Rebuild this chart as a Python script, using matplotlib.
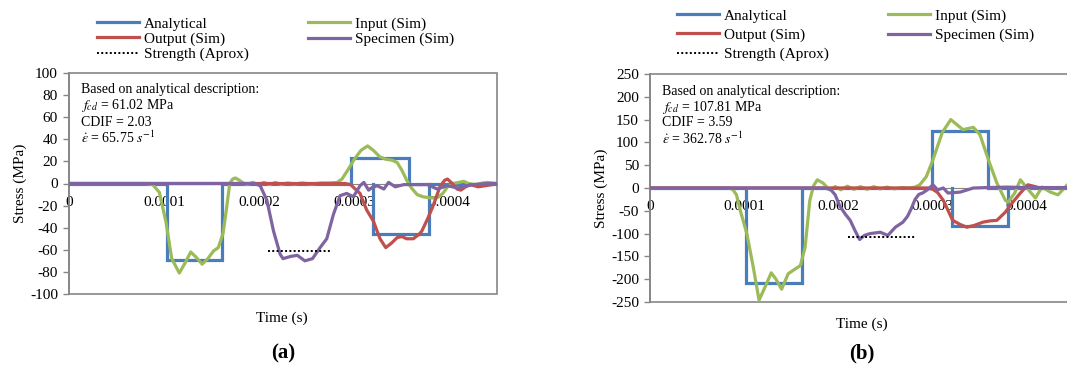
import matplotlib
matplotlib.use("Agg")
import matplotlib.pyplot as plt
from matplotlib.patches import Rectangle
import numpy as np

plt.rcParams['font.family'] = ['Liberation Serif', 'DejaVu Serif']
plt.rcParams['mathtext.fontset'] = 'stix'
plt.rcParams['axes.unicode_minus'] = False

E = 1e-4
# ---------------- Panel (a) ----------------
ana_a_t = [0, 1.03, 1.03, 1.61, 1.61, 2.97, 2.97, 3.57, 3.57, 4.5]
ana_a_v = [0, 0, -69, -69, 0, 0, 23, 23, 0, 0]
ana_a_t2 = [3.20, 3.20, 3.78, 3.78]
ana_a_v2 = [0, -46, -46, 0]

inp_a_t = [0, 0.80, 0.88, 0.95, 1.02, 1.08, 1.16, 1.22, 1.28, 1.34, 1.40, 1.46, 1.52, 1.57,
           1.62, 1.66, 1.69, 1.72, 1.75, 1.79, 1.84, 1.88, 1.93, 1.99, 2.05, 2.11, 2.17, 2.23,
           2.30, 2.37, 2.45, 2.55, 2.65, 2.75, 2.82, 2.87, 2.93, 3.00, 3.07, 3.14, 3.20, 3.27,
           3.33, 3.40, 3.45, 3.50, 3.55, 3.60, 3.66, 3.72, 3.80, 3.87, 3.93, 3.98, 4.04, 4.10,
           4.15, 4.20, 4.27, 4.35, 4.40, 4.50]
inp_a_v = [0, 0, -1, -8, -35, -68, -81, -72, -62, -67, -73, -68, -61, -58,
           -45, -20, 0, 4, 5, 3, 0, -1, 1, -1, 1, -1, 1, -1,
           0.5, -0.5, 0.5, -0.5, 0.5, 0.5, 1, 4, 12, 22, 30, 34, 30, 24,
           22, 21, 19, 12, 3, -4, -10, -12, -13, -13, -9, -3, 0, 1,
           2, 0, -1, 0.5, 1, 0]

out_a_t = [0, 2.90, 2.96, 3.06, 3.13, 3.20, 3.27, 3.33, 3.39, 3.45, 3.50, 3.55, 3.62, 3.68,
           3.71, 3.77, 3.82, 3.90, 3.95, 3.98, 4.03, 4.08, 4.12, 4.17, 4.22, 4.30, 4.38, 4.45, 4.50]
out_a_v = [0, 0, -1, -9, -24, -34, -50, -58, -54, -49, -48, -50, -50, -46,
           -43, -32, -22, -3, 3, 4, 0, -5, -6, -3, -1, -3, -2, -1, 0]

spe_a_t = [0, 1.95, 2.01, 2.08, 2.15, 2.22, 2.25, 2.33, 2.40, 2.48, 2.56, 2.64, 2.71, 2.78,
           2.85, 2.92, 2.99, 3.06, 3.10, 3.15, 3.18, 3.24, 3.31, 3.36, 3.43, 3.52, 3.62, 3.77,
           3.87, 3.98, 4.08, 4.25, 4.40, 4.50]
spe_a_v = [0, 0, -2, -15, -43, -64, -68, -66, -65, -70, -68, -58, -50, -28,
           -11, -9, -12, -2, 1, -6, -4, -2, -5, 1, -3, -1, -1, -1,
           -5, -2, -4, -1, 0, 0]

str_a_t = [2.09, 2.77]
str_a_v = [-61.02, -61.02]

# ---------------- Panel (b) ----------------
ana_b_t = [0, 1.02, 1.02, 1.62, 1.62, 3.00, 3.00, 3.60, 3.60, 4.5]
ana_b_v = [0, 0, -209, -209, 0, 0, 125, 125, 0, 0]
ana_b_t2 = [3.21, 3.21, 3.81, 3.81]
ana_b_v2 = [0, -84, -84, 0]

inp_b_t = [0, 0.84, 0.88, 0.92, 0.96, 1.03, 1.10, 1.16, 1.22, 1.29, 1.34, 1.40, 1.47, 1.52,
           1.60, 1.65, 1.70, 1.74, 1.78, 1.84, 1.91, 1.97, 2.03, 2.10, 2.17, 2.24, 2.31, 2.38,
           2.45, 2.52, 2.60, 2.68, 2.75, 2.82, 2.87, 2.94, 3.01, 3.11, 3.20, 3.27, 3.33, 3.44,
           3.51, 3.60, 3.69, 3.78, 3.81, 3.88, 3.94, 4.01, 4.10, 4.17, 4.26, 4.34, 4.44, 4.50]
inp_b_v = [0, 0, -3, -15, -49, -100, -175, -246, -219, -186, -200, -222, -188, -181,
           -170, -130, -27, 5, 18, 11, -4, 3, -4, 4, -3, 3, -3, 3,
           -2, 2, -2, 1, 0, 2, 7, 25, 62, 122, 150, 138, 128, 133,
           117, 62, 11, -27, -31, -11, 18, 0, -22, 2, -9, -15, 7, 5]

out_b_t = [0, 2.95, 3.01, 3.06, 3.12, 3.22, 3.30, 3.37, 3.45, 3.54, 3.62, 3.69, 3.78, 3.86,
           3.94, 4.02, 4.08, 4.15, 4.30, 4.50]
out_b_v = [0, 0, -3, -10, -27, -71, -80, -86, -82, -75, -72, -71, -53, -31,
           -11, 7, 4, 0, 0, 0]

spe_b_t = [0, 1.85, 1.92, 1.97, 2.02, 2.08, 2.13, 2.18, 2.23, 2.28, 2.34, 2.45, 2.53, 2.61,
           2.69, 2.74, 2.78, 2.82, 2.86, 2.90, 2.95, 3.01, 3.06, 3.12, 3.17, 3.30, 3.44, 3.60,
           3.80, 4.00, 4.50]
spe_b_v = [0, 0, -3, -15, -40, -58, -71, -93, -113, -104, -100, -97, -104, -86,
           -75, -62, -45, -25, -14, -11, -4, 7, -4, 0, -11, -9, 0, 1,
           2, 1, 1]

str_b_t = [2.11, 2.82]
str_b_v = [-107.81, -107.81]

xticks = [0, 1, 2, 3, 4]
xtick_labels = ['0', '0.0001', '0.0002', '0.0003', '0.0004']
yticks_a = list(range(-100, 101, 20))
yticks_b = list(range(-250, 251, 50))

C_BLUE = '#4A7EBB'
C_GREEN = '#9BBB59'
C_RED = '#C0504D'
C_PURPLE = '#8064A2'
GRAY = '#868686'
LW = 2.3

W, H = 1067, 369
fig = plt.figure(figsize=(W / 100, H / 100), dpi=100)


def px_axes(x0, x1, ytop, ybot):
    return fig.add_axes([x0 / W, 1 - ybot / H, (x1 - x0) / W, (ybot - ytop) / H])


def draw_panel(ax, data, ylim, yticks, notes):
    (at, av, at2, av2, it, iv, ot, ov, st, sv, rt, rv) = data
    s = lambda t: np.array(t) * E
    h1, = ax.plot(s(at), av, color=C_BLUE, lw=LW, zorder=3, solid_joinstyle='miter')
    ax.plot(s(at2), av2, color=C_BLUE, lw=LW, zorder=3, solid_joinstyle='miter')
    h2, = ax.plot(s(it), iv, color=C_GREEN, lw=LW, zorder=4, solid_joinstyle='round')
    h3, = ax.plot(s(ot), ov, color=C_RED, lw=LW, zorder=5, solid_joinstyle='round')
    h4, = ax.plot(s(st), sv, color=C_PURPLE, lw=LW, zorder=6, solid_joinstyle='round')
    h5, = ax.plot(s(rt), rv, color='black', lw=1.4, ls=(0, (1, 1.2)), zorder=7)
    ax.set_xlim(0, 4.5 * E)
    ax.set_ylim(*ylim)
    ax.set_yticks(yticks)
    ax.set_xticks([x * E for x in xticks])
    ax.set_xticklabels(xtick_labels)
    for sp in ['top', 'right']:
        ax.spines[sp].set_visible(False)
    ax.spines['bottom'].set_position(('data', 0))
    ax.spines['bottom'].set_color(GRAY)
    ax.spines['left'].set_color(GRAY)
    ax.spines['left'].set_linewidth(1.2)
    ax.tick_params(axis='y', direction='out', length=4, width=1, color=GRAY,
                   labelsize=11, pad=4)
    ax.tick_params(axis='x', length=0, labelsize=11, pad=9)
    ax.add_patch(Rectangle((0, 0), 1, 1, transform=ax.transAxes, fill=False,
                           edgecolor=GRAY, lw=1.2, clip_on=False, zorder=1))
    for i, line in enumerate(notes):
        ax.annotate(line, xy=(0, 1), xycoords='axes fraction',
                    xytext=(12, -17 - 16 * i), textcoords='offset pixels',
                    ha='left', va='center', fontsize=10, zorder=10)
    return [h1, h3, h5, h2, h4]


labels = ['Analytical', 'Output (Sim)', 'Strength (Aprox)', 'Input (Sim)', 'Specimen (Sim)']

# Panel (a)
ax1 = px_axes(69, 497, 73, 294)
hs = draw_panel(ax1, (ana_a_t, ana_a_v, ana_a_t2, ana_a_v2, inp_a_t, inp_a_v,
                      out_a_t, out_a_v, spe_a_t, spe_a_v, str_a_t, str_a_v),
                (-100, 100), yticks_a,
                ['Based on analytical description:', '$f_{cd}$ = 61.02 MPa',
                 'CDIF = 2.03', r'$\dot{\varepsilon}$ = 65.75 $s^{-1}$'])
ax1.set_ylabel('Stress (MPa)', fontsize=11, labelpad=2)
ax1.legend(hs, labels, ncol=2, loc='upper left', bbox_to_anchor=(97 / W, 1 - 17 / H),
           bbox_transform=fig.transFigure, frameon=False, fontsize=11,
           handlelength=2.75, handletextpad=0.3, columnspacing=3.9, borderpad=0,
           borderaxespad=0, labelspacing=0.09)
fig.text(282 / W, 1 - 318 / H, 'Time (s)', ha='center', va='center', fontsize=11)
fig.text(283 / W, 1 - 353 / H, '(a)', ha='center', va='center', fontsize=15,
         fontweight='bold')

# Panel (b)
ax2 = px_axes(650, 650 + 423, 74, 302)
hs = draw_panel(ax2, (ana_b_t, ana_b_v, ana_b_t2, ana_b_v2, inp_b_t, inp_b_v,
                      out_b_t, out_b_v, spe_b_t, spe_b_v, str_b_t, str_b_v),
                (-250, 250), yticks_b,
                ['Based on analytical description:', '$f_{cd}$ = 107.81 MPa',
                 'CDIF = 3.59', r'$\dot{\varepsilon}$ = 362.78 $s^{-1}$'])
ax2.set_ylabel('Stress (MPa)', fontsize=11, labelpad=2)
ax2.legend(hs, labels, ncol=2, loc='upper left', bbox_to_anchor=(677 / W, 1 - 9 / H),
           bbox_transform=fig.transFigure, frameon=False, fontsize=11,
           handlelength=2.75, handletextpad=0.3, columnspacing=3.9, borderpad=0,
           borderaxespad=0, labelspacing=0.35)
fig.text(862 / W, 1 - 324 / H, 'Time (s)', ha='center', va='center', fontsize=11)
fig.text(862 / W, 1 - 353 / H, '(b)', ha='center', va='center', fontsize=15,
         fontweight='bold')

fig.savefig('out.png', dpi=100)
